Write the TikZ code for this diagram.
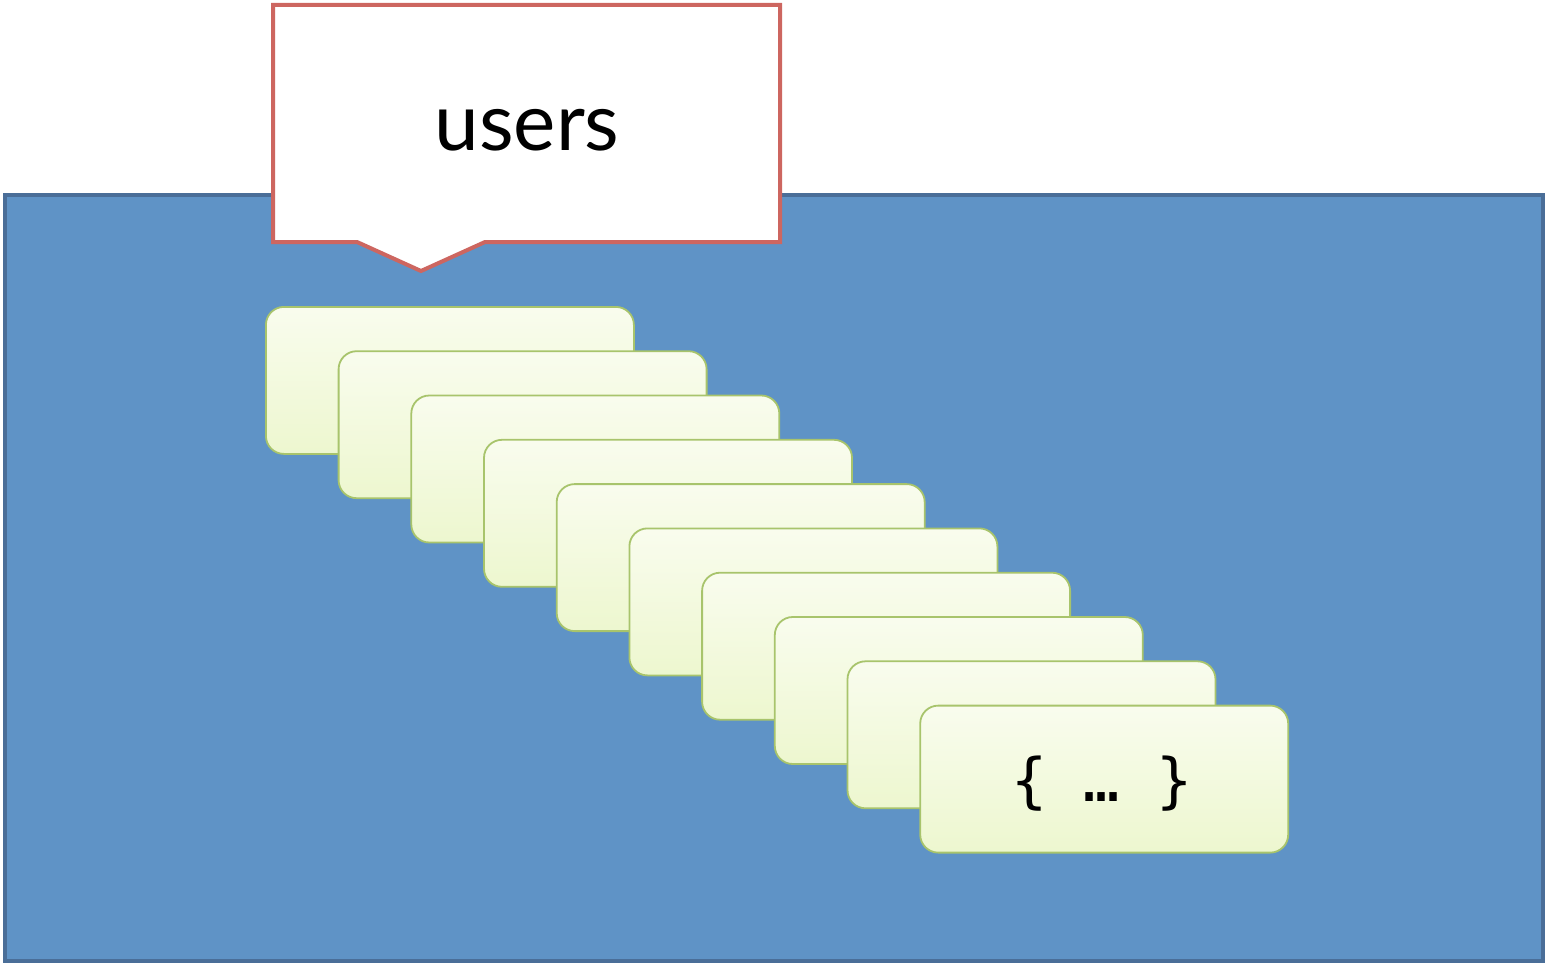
\documentclass[tikz,border=0pt]{standalone}
\usepackage{fontspec}
\setmainfont{Lato}
\newfontfamily\bracefont{DejaVu Sans Mono}
\usetikzlibrary{positioning}
\definecolor{collblue}{HTML}{5F93C6}
\definecolor{collrim}{HTML}{4A6E98}
\definecolor{callred}{HTML}{CD6660}
\definecolor{cardtop}{HTML}{F9FCEE}
\definecolor{cardbot}{HTML}{EDF7CF}
\definecolor{cardrim}{HTML}{A8C46C}
\tikzset{
  doccard/.style={draw=cardrim, line width=1.8pt, rounded corners=18pt,
    top color=cardtop, bottom color=cardbot, anchor=north west,
    minimum width=368pt, minimum height=147pt, inner sep=0pt}
}
\begin{document}
\begin{tikzpicture}[x=1pt,y=-1pt]
            \useasboundingbox (0,0) rectangle (1547,966);

            % the collection
            \draw[collrim, fill=collblue, line width=4pt] (5,195) rectangle (1543,961);

            % the documents
            \foreach \i in {0,...,9}
                \node[doccard] (card\i) at (265+72.7*\i,306+44.3*\i) {};
            \node[font=\bracefont\fontsize{60}{62}\selectfont] (dots) at (1102,784) {\{~…~\}};

            % callout with the name
            \draw[callred, fill=white, line width=4pt, line join=miter]
                (273,5) -- (780,5) -- (780,242) -- (485,242) -- (421,271)
                -- (357,242) -- (273,242) -- cycle;
            \node[font=\fontsize{80}{84}\selectfont] (name) at (527,130) {users};
\end{tikzpicture}
\end{document}
